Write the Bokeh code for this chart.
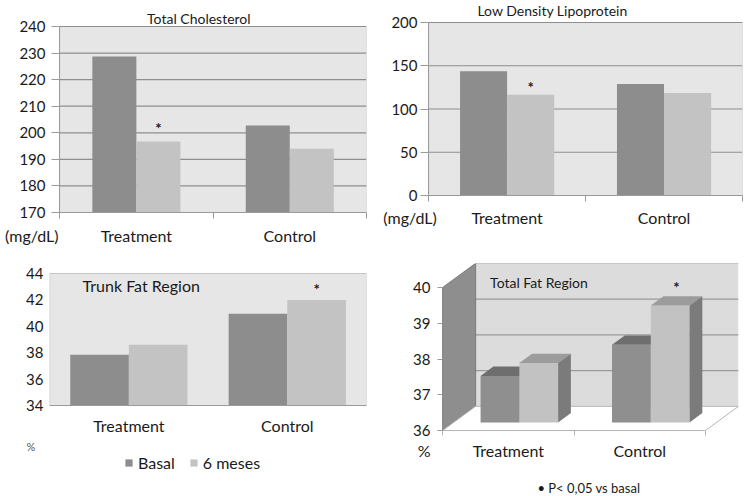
import numpy as np
from bokeh.plotting import figure
from bokeh.layouts import column, row
from bokeh.models import Range1d, FixedTicker, Legend, LegendItem, Title
from bokeh.embed import file_html
from bokeh.resources import INLINE

# ---------------- data ----------------
groups = ["Treatment", "Control"]
series = ["Basal", "6 meses"]

chol_basal = [228.7, 202.7]
chol_6m = [196.7, 194.0]
chol_sig = ["*", ""]
chol_ticks = [170, 180, 190, 200, 210, 220, 230, 240]

ldl_basal = [143.5, 129.0]
ldl_6m = [116.5, 118.5]
ldl_sig = ["*", ""]
ldl_ticks = [0, 50, 100, 150, 200]

trunk_basal = [37.85, 40.95]
trunk_6m = [38.6, 42.0]
trunk_sig = ["", "*"]
trunk_ticks = [34, 36, 38, 40, 42, 44]

total_basal = [37.3, 38.17]
total_6m = [37.66, 39.27]
total_sig = ["", "*"]
total_ticks = [36, 37, 38, 39, 40]

# ---------------- style ----------------
FONT = "Lato"
C_BASAL = "#8d8d8d"
C_6M = "#c3c3c3"
BG = "#e6e6e6"
GRID = "#8e8e8e"
AX = "#9a9a9a"
TXT = "#1a1a1a"
FSP = "\u2007"  # figure space used to push a tick label sideways

xc = np.arange(len(groups)) + 0.5
x_edges = list(np.arange(len(groups) + 1).astype(float))


def base_fig(fw, fh, left, right, top, bottom, ticks, head_px, xr_end=2.0):
    # extra headroom above the top tick (in px) converted to data units
    span = ticks[-1] - ticks[0]
    y_end = ticks[-1] + head_px * span / (fh - head_px)
    p = figure(frame_width=fw, frame_height=fh,
               x_range=Range1d(-0.001, xr_end), y_range=Range1d(ticks[0], y_end),
               output_backend="svg", toolbar_location=None, title_location=None,
               min_border_left=left, min_border_right=right,
               min_border_top=top, min_border_bottom=bottom,
               background_fill_color="white", border_fill_color="white",
               outline_line_color=None)
    p.grid.visible = False
    for ax in (p.xaxis, p.yaxis):
        ax.axis_line_color = AX
        ax.major_label_text_font = FONT
        ax.major_label_text_color = TXT
        ax.minor_tick_line_color = None
    p.xaxis.bounds = (0, 2)
    p.xaxis.major_tick_line_color = None
    p.xaxis.major_tick_out = 0
    p.xaxis.major_tick_in = 0
    p.xaxis.minor_tick_line_color = AX
    p.xaxis.minor_tick_out = 6
    p.xaxis.minor_tick_in = 0
    p.xaxis.major_label_text_font_size = "16px"
    p.yaxis.ticker = FixedTicker(ticks=ticks)
    p.yaxis.bounds = (ticks[0], ticks[-1])
    p.yaxis.major_label_text_font_size = "15px"
    p.yaxis.major_tick_in = 0
    p.yaxis.major_tick_line_color = AX
    return p


def x_labels(p, unit_label=None):
    ticks = list(xc)
    labels = {float(x): g for x, g in zip(xc, groups)}
    if unit_label is not None:
        ticks = [0.0] + ticks
        labels[0.0] = unit_label
    p.xaxis.ticker = FixedTicker(ticks=ticks, minor_ticks=x_edges)
    p.xaxis.major_label_overrides = labels


def plot_area(p, ticks, grid=True):
    p.quad(left=0, right=2, bottom=ticks[0], top=ticks[-1],
           fill_color=BG, line_color="#c6c6c6")
    if grid:
        gy = np.array(ticks[1:], dtype=float)
        p.segment(x0=0, x1=2, y0=gy, y1=gy, line_color=GRID, line_width=1.2)


def bars(p, w, basal, m6, bottom, sig, star_off):
    rb = p.vbar(x=xc - w / 2, top=basal, bottom=bottom, width=w,
                fill_color=C_BASAL, line_color=None)
    r6 = p.vbar(x=xc + w / 2, top=m6, bottom=bottom, width=w,
                fill_color=C_6M, line_color=None)
    p.text(x=xc + w / 2, y=m6, text=sig, y_offset=star_off,
           text_align="center", text_baseline="middle",
           text_font_size="15px", text_font_style="bold", text_color=TXT,
           text_font={"value": FONT})
    return rb, r6


def inner_text(p, x, y, dy, text, size, align="center", color=TXT):
    p.text(x=[x], y=[y], text=[text], y_offset=dy, text_align=align,
           text_baseline="middle", text_font={"value": FONT},
           text_font_size=size, text_color=color)


# ---------- panel 1: Total Cholesterol ----------
p1 = base_fig(307, 210, 59, 9, 2, 38, chol_ticks, 24)
x_labels(p1, "(mg/dL)" + FSP * 6)
p1.yaxis.major_tick_out = 8
p1.yaxis.major_label_standoff = 6
p1.xaxis.major_label_standoff = 7
plot_area(p1, chol_ticks)
bars(p1, 0.287, chol_basal, chol_6m, chol_ticks[0], chol_sig, -14)
inner_text(p1, 0.907, chol_ticks[-1], -8, "Total Cholesterol", "14px")

# ---------- panel 2: LDL ----------
p2 = base_fig(314, 193, 53, 8, 2, 55, ldl_ticks, 20)
x_labels(p2, "(mg/dL)" + FSP * 4)
p2.yaxis.major_tick_out = 8
p2.yaxis.major_label_standoff = 3
p2.xaxis.major_label_standoff = 6
plot_area(p2, ldl_ticks)
bars(p2, 0.3, ldl_basal, ldl_6m, ldl_ticks[0], ldl_sig, -8)
inner_text(p2, 0.79, ldl_ticks[-1], -12, "Low Density Lipoprotein", "14px")

# ---------- panel 3: Trunk Fat Region ----------
p3 = base_fig(317, 142, 49, 9, 13, 35, trunk_ticks, 10)
x_labels(p3)
p3.yaxis.axis_line_color = None
p3.yaxis.major_tick_line_color = None
p3.yaxis.major_tick_out = 0
p3.yaxis.major_label_standoff = 6
p3.xaxis.minor_tick_line_color = None
p3.xaxis.major_label_standoff = 4
plot_area(p3, trunk_ticks, grid=False)
bars(p3, 0.37, trunk_basal, trunk_6m, trunk_ticks[0], trunk_sig, -11)
inner_text(p3, 0.208, trunk_ticks[-1], 12, "Trunk Fat Region", "16px", "left")
p3.add_layout(Title(text="%", align="left", offset=-23, standoff=0,
                    text_font=FONT, text_font_size="11px", text_font_style="normal",
                    text_color="#555555"), "below")

# legend strip under panel 3 (its own frame, so nothing is clipped)
LW, LH = 317, 42
lf = figure(frame_width=LW, frame_height=LH, x_range=Range1d(0, LW), y_range=Range1d(0, LH),
            x_axis_type=None, y_axis_type=None, output_backend="svg",
            toolbar_location=None, title_location=None,
            min_border_left=49, min_border_right=9, min_border_top=0, min_border_bottom=0,
            outline_line_color=None, background_fill_color="white",
            border_fill_color="white")
lf.grid.visible = False
# zero-size swatches: they only carry the series colours for the legend
kb = lf.vbar(x=[0], top=[0], bottom=[0], width=0, fill_color=C_BASAL, line_color=None)
k6 = lf.vbar(x=[0], top=[0], bottom=[0], width=0, fill_color=C_6M, line_color=None)
legend = Legend(items=[LegendItem(label=series[0], renderers=[kb]),
                       LegendItem(label=series[1], renderers=[k6])],
                orientation="horizontal", location=(75, 22),
                label_text_font=FONT, label_text_font_size="16px",
                label_text_color=TXT, glyph_width=9, glyph_height=9,
                label_standoff=5, spacing=14, padding=0, margin=0,
                border_line_color=None, background_fill_alpha=0)
lf.add_layout(legend)

# ---------- panel 4: Total Fat Region (3D style) ----------
depth_x = 0.251
depth_y = 0.676
d_front = 1 / 3
d_back = 0.72
w4 = 0.295
y0 = total_ticks[0]
p4 = base_fig(296, 167, 67, 12, 13, 66, total_ticks, 24, xr_end=2 + depth_x)
x_labels(p4, "%" + FSP * 4)
p4.yaxis.major_tick_out = 5
p4.yaxis.major_label_standoff = 7
p4.yaxis.axis_line_color = "#8a8a8a"
p4.xaxis.axis_line_color = "#b5b5b5"
p4.xaxis.minor_tick_line_color = "#b5b5b5"
p4.xaxis.minor_tick_out = 5
p4.xaxis.major_label_standoff = 5
p4.xaxis.axis_label = "\u2022  P< 0,05 vs basal"
p4.xaxis.axis_label_standoff = 17
p4.xaxis.axis_label_text_font = FONT
p4.xaxis.axis_label_text_font_size = "13px"
p4.xaxis.axis_label_text_font_style = "normal"
p4.xaxis.axis_label_text_color = TXT

# walls and floor
p4.quad(left=depth_x, right=2 + depth_x, bottom=y0 + depth_y,
        top=total_ticks[-1] + depth_y, fill_color="#dcdcdc", line_color=None)
gy4 = np.array(total_ticks[1:], dtype=float) + depth_y
p4.segment(x0=depth_x, x1=2 + depth_x, y0=gy4, y1=gy4, line_color="#9a9a9a", line_width=1.2)
p4.patch(x=[0, depth_x, depth_x, 0],
         y=[y0, y0 + depth_y, total_ticks[-1] + depth_y, total_ticks[-1]],
         fill_color="#8e8e8e", line_color="#7a7a7a")
p4.patch(x=[0, 2, 2 + depth_x, depth_x], y=[y0, y0, y0 + depth_y, y0 + depth_y],
         fill_color="white", line_color="#b5b5b5")

sx1, sy1 = depth_x * d_front, depth_y * d_front
ddx, ddy = depth_x * (d_back - d_front), depth_y * (d_back - d_front)


def bars3d(lefts, rights, vals, c_front, c_top, c_side):
    lefts = np.asarray(lefts) + sx1
    rights = np.asarray(rights) + sx1
    tops = np.asarray(vals) + sy1
    bot = y0 + sy1
    r = p4.quad(left=lefts, right=rights, bottom=bot, top=tops,
                fill_color=c_front, line_color=None)
    p4.patches(xs=[[l, rr, rr + ddx, l + ddx] for l, rr in zip(lefts, rights)],
               ys=[[t, t, t + ddy, t + ddy] for t in tops],
               fill_color=c_top, line_color=None)
    p4.patches(xs=[[rr, rr + ddx, rr + ddx, rr] for rr in rights],
               ys=[[bot, bot + ddy, t + ddy, t] for t in tops],
               fill_color=c_side, line_color=None)
    return r


bars3d(xc - w4, xc, total_basal, "#8f8f8f", "#6e6e6e", "#777777")
bars3d(xc, xc + w4, total_6m, "#c2c2c2", "#9c9c9c", "#7b7b7b")
p4.text(x=xc + w4 / 2 + sx1 + ddx / 2, y=np.asarray(total_6m) + sy1 + ddy,
        text=total_sig, y_offset=-9, text_align="center", text_baseline="middle",
        text_font_size="15px", text_font_style="bold", text_color=TXT,
        text_font={"value": FONT})
inner_text(p4, 0.361, total_ticks[-1] + depth_y, 19, "Total Fat Region", "14px", "left")

layout = column(row(p1, p2), row(column(p3, lf), p4))
open("out.html", "w").write(file_html(layout, INLINE))
